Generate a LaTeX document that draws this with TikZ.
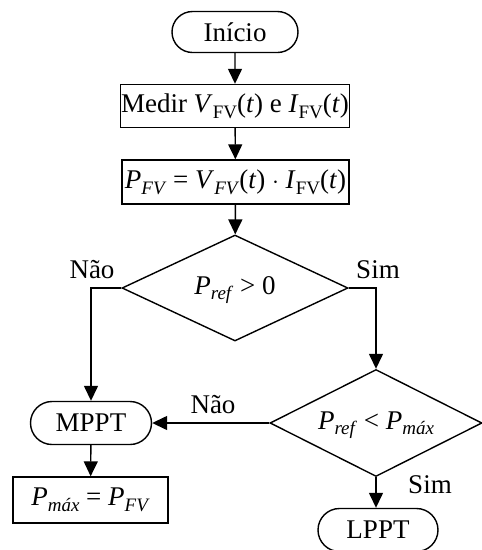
\documentclass[tikz,border=0pt]{standalone}
\usepackage{fontspec}
\setmainfont{Liberation Serif}
\usetikzlibrary{arrows.meta,shapes.geometric,shapes.misc}
\newcommand\sbs[1]{\raisebox{-0.45ex}{\fontsize{19}{19}\selectfont #1}}
\newcommand\ii[1]{\textit{#1}}
\begin{document}
\begin{tikzpicture}[x=1pt,y=-1pt,
  every node/.style={font=\fontsize{27}{30}\selectfont, inner sep=0pt},
  line width=1.4pt,
  term/.style={draw, rounded rectangle, minimum height=41pt},
  proc/.style={draw, rectangle, minimum height=44pt},
  arr/.style={-{Triangle[width=14pt,length=15pt]}}]
\useasboundingbox (0,0) rectangle (482,550);
\node[term, minimum width=126pt] (ini) at (235,32) {Início};
\node[proc, minimum width=229pt, minimum height=43pt] (med) at (235,106) {Medir \ii{V}\sbs{FV}(\ii{t}) e \ii{I}\sbs{FV}(\ii{t})};
\node[proc, minimum width=227pt] (pfv) at (235.5,182) {\ii{P}\sbs{\ii{FV}} = \ii{V}\sbs{\ii{FV}}(\ii{t}) $\cdot$ \ii{I}\sbs{FV}(\ii{t})};
\node[draw, diamond, minimum width=226pt, minimum height=106pt, inner sep=0pt, shape aspect=2.13] (d1) at (235,288) {};
\node at (235,290) {\ii{P}\sbs{\ii{ref}} > 0};
\node[draw, diamond, minimum width=212pt, minimum height=107pt, shape aspect=1.98] (d2) at (376,423) {};
\node at (376,425) {\ii{P}\sbs{\ii{ref}} < \ii{P}\sbs{\ii{máx}}};
\node[term, minimum width=121pt, minimum height=43pt] (mppt) at (91,423) {MPPT};
\node[proc, minimum width=155pt, minimum height=46pt] (pmax) at (90.5,500) {\ii{P}\sbs{\ii{máx}} = \ii{P}\sbs{\ii{FV}}};
\node[term, minimum width=120pt, minimum height=43pt] (lppt) at (378,530) {LPPT};
\node (nao1) at (92,270) {Não};
\node (sim1) at (378,270) {Sim};
\node (nao2) at (213,405) {Não};
\node (sim2) at (430,485) {Sim};
\draw[arr] (ini) -- (med);
\draw[arr] (med) -- (pfv);
\draw[arr] (pfv) -- (d1);
\draw[arr] (d1.west) -| (mppt.north);
\draw[arr] (d1.east) -| (d2.north);
\draw[arr] (d2.west) -- (mppt.east);
\draw[arr] (mppt) -- (pmax);
\draw[arr] (d2.south) -- (d2.south |- lppt.north);
\end{tikzpicture}
\end{document}
